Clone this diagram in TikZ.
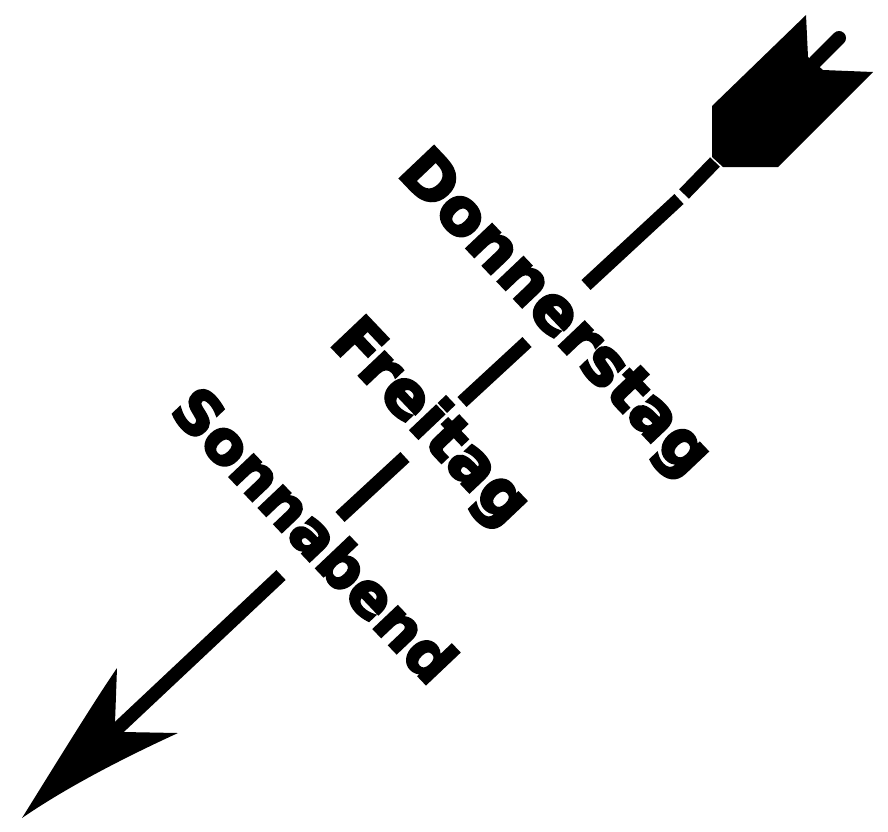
\documentclass[tikz,border=0pt]{standalone}
\usepackage{fontspec}
\usepackage{tikz}
\usetikzlibrary{arrows.meta,positioning}
\newfontfamily\dayfont{DejaVu Sans Bold}[FakeBold=4]
\definecolor{arrowink}{RGB}{0,0,0}
\definecolor{arrowpaper}{RGB}{255,255,255}
\tikzset{
  shaftpiece/.style={draw=arrowink, line width=13.5pt},
  nockpiece/.style={draw=arrowink, line width=14pt, line cap=round},
  featherfill/.style={fill=arrowink},
  headfill/.style={fill=arrowink},
  daylabel/.style={font=\dayfont\fontsize{#1}{#1}\selectfont,
    text=arrowink, rotate=-46.5, anchor=base west, inner sep=0pt},
  daylabel/.default=62pt,
}
\begin{document}
\begin{tikzpicture}[x=1pt, y=-1pt]
  \useasboundingbox[fill=arrowpaper] (0,0) rectangle (888,831);
  % fletching and nock
  \draw[nockpiece] (839.0,38.0) -- (815.0,62.0);
  \fill[featherfill] (806.0,15.0) -- (712.0,106.0) -- (712.0,157.0) -- (723.0,167.0)
    -- (778.0,167.0) -- (873.0,72.0) -- (823.0,70.0) -- (808.0,57.0) -- cycle;
  \draw[shaftpiece] (715.0,162.0) -- (684.0,194.0);
  % shaft pieces between the days
  \draw[shaftpiece] (679.0,199.0) -- (586.0,285.0);
  \draw[shaftpiece] (527.0,342.0) -- (462.0,402.0);
  \draw[shaftpiece] (405.0,457.0) -- (340.0,517.0);
  \draw[shaftpiece] (281.0,575.0) -- (115.0,731.0);
  % head
  \fill[headfill] (22.0,818.0) .. controls (55.0,765.0) and (95.0,700.0) .. (117.0,668.0)
    -- (115.0,723.0) -- (123.0,732.0) -- (178.0,733.0)
    .. controls (130.0,755.0) and (70.0,785.0) .. cycle;
  % days
  \node[daylabel=64pt] (donnerstag) at (396.0,174.0) {Donnerstag};
  \node[daylabel=64pt] (freitag) at (328.0,343.0) {Freitag};
  \node[daylabel=60pt] (sonnabend) at (168.0,412.0) {Sonnabend};
\end{tikzpicture}
\end{document}
